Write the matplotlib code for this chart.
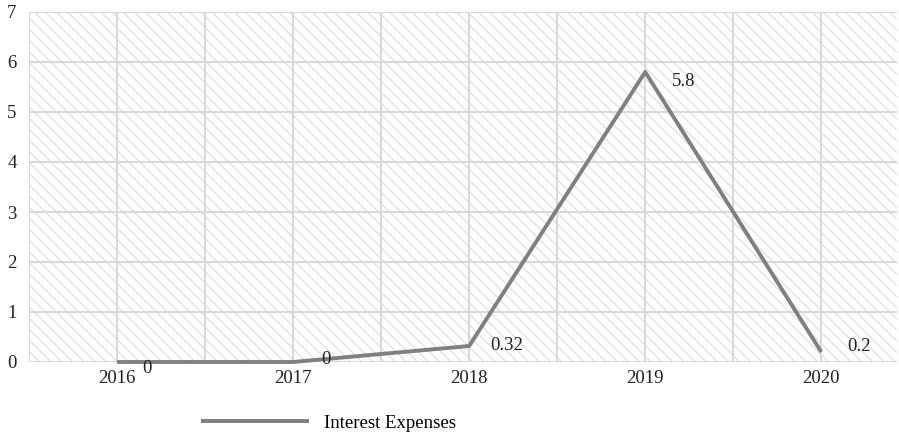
import matplotlib.pyplot as plt
from matplotlib.patches import Rectangle

plt.rcParams['font.family'] = ['Liberation Serif', 'DejaVu Serif']

years = ['2016', '2017', '2018', '2019', '2020']
interest = [0, 0, 0.32, 5.8, 0.2]
labels = ['0', '0', '0.32', '5.8', '0.2']

fig = plt.figure(figsize=(8.99, 4.34), dpi=100)
ax = fig.add_axes([29 / 899, 1 - 362 / 434, 868 / 899, 350 / 434])

x = list(range(len(years)))
ax.set_xlim(-0.5, 4.43)
ax.set_ylim(0, 7)

# hatched background
plt.rcParams['hatch.color'] = '#e0e0e0'
plt.rcParams['hatch.linewidth'] = 0.9
ax.add_patch(Rectangle((0, 0), 1, 1, transform=ax.transAxes, facecolor='white',
                       hatch='\\\\\\', edgecolor='#e0e0e0', linewidth=0, zorder=0))

# grid
for v in range(8):
    ax.axhline(v, color='#d9d9d9', lw=1.5, zorder=1)
for g in [i * 0.5 - 0.5 for i in range(11)]:
    ax.axvline(g, color='#d9d9d9', lw=1.5, zorder=1)

ax.plot(x, interest, color='#808080', lw=2.8, zorder=3, clip_on=False,
        solid_capstyle='butt', label='Interest Expenses')

offs = [(18, -5), (20, 2), (15, 0), (19, -7), (19, 4)]
for xi, yi, t, o in zip(x, interest, labels, offs):
    ax.annotate(t, (xi, yi), xytext=o, textcoords='offset points',
                ha='left', va='center', fontsize=13.5, color='#222222', zorder=4)

for s in ax.spines.values():
    s.set_visible(False)
ax.set_xticks(x)
ax.set_xticklabels(years, fontsize=13.5, color='#222222')
ax.set_yticks(range(8))
ax.set_yticklabels([str(v) for v in range(8)], fontsize=13.5, color='#222222')
ax.tick_params(length=0, pad=6)
ax.tick_params(axis='y', pad=9)

ax.legend(loc='center', bbox_to_anchor=(0.345, -0.175), frameon=False,
          fontsize=13.5, handlelength=5.8, handletextpad=0.8)

plt.savefig('out.png', dpi=100)
